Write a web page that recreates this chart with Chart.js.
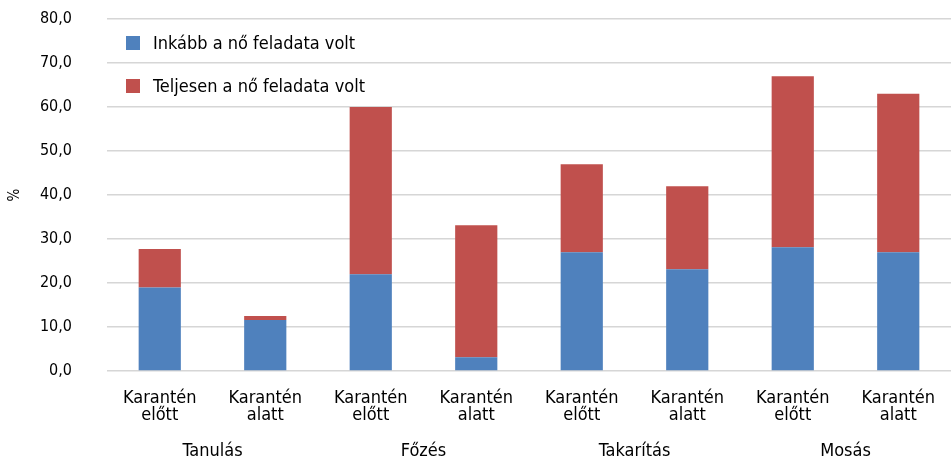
<html>
<head>
<script src="https://cdn.jsdelivr.net/npm/chart.js"></script>
<style>
  body { margin: 0; background: #fff; }
  #wrap { width: 951px; height: 458px; }
</style>
</head>
<body>
<div id="wrap"><canvas id="chart"></canvas></div>
<script>
  // data
  var catLabels = [
    ['Karantén', 'előtt'], ['Karantén', 'alatt'],
    ['Karantén', 'előtt'], ['Karantén', 'alatt'],
    ['Karantén', 'előtt'], ['Karantén', 'alatt'],
    ['Karantén', 'előtt'], ['Karantén', 'alatt']
  ];
  var groupLabels = ['Tanulás', 'Főzés', 'Takarítás', 'Mosás'];
  var inkabb = [19.0, 11.6, 22.0, 3.1, 27.0, 23.1, 28.1, 27.0];
  var teljesen = [8.7, 0.9, 38.0, 30.0, 20.0, 18.9, 38.9, 36.0];
  var seriesNames = ['Inkább a nő feladata volt', 'Teljesen a nő feladata volt'];
  var seriesColors = ['#4f81bd', '#c0504d'];

  var cond = "'DejaVu Sans Condensed', 'DejaVu Sans', sans-serif";

  // legend sits inside the plot, top left
  var insideLegend = {
    id: 'insideLegend',
    afterDraw: function(chart) {
      var ctx = chart.ctx;
      var x = chart.chartArea.left + 19;
      var ys = [43, 86];
      ctx.save();
      ctx.font = '18px ' + cond;
      ctx.textBaseline = 'middle';
      for (var i = 0; i < seriesNames.length; i++) {
        ctx.fillStyle = seriesColors[i];
        ctx.fillRect(x, ys[i] - 7, 14, 14);
        ctx.fillStyle = '#000';
        ctx.fillText(seriesNames[i], x + 27, ys[i] + 1);
      }
      ctx.restore();
    }
  };

  new Chart(document.getElementById('chart'), {
    type: 'bar',
    data: {
      labels: catLabels,
      datasets: [
        { label: seriesNames[0], data: inkabb, backgroundColor: seriesColors[0] },
        { label: seriesNames[1], data: teljesen, backgroundColor: seriesColors[1] }
      ]
    },
    options: {
      responsive: true,
      maintainAspectRatio: false,
      animation: false,
      barPercentage: 0.4,
      categoryPercentage: 1.0,
      layout: { padding: { top: 19, right: 0, left: 0, bottom: 0 } },
      plugins: { legend: { display: false }, tooltip: { enabled: false } },
      scales: {
        x: {
          stacked: true,
          grid: { display: false },
          border: { display: false },
          ticks: {
            color: '#000', font: { family: cond, size: 18, lineHeight: 0.92 },
            padding: 11, maxRotation: 0, autoSkip: false
          },
          afterFit: function(s) { s.height = 62; }
        },
        x2: {
          type: 'category',
          position: 'bottom',
          labels: groupLabels,
          grid: { display: false },
          border: { display: false },
          ticks: { color: '#000', font: { family: cond, size: 18 }, padding: 0 },
          afterFit: function(s) { s.height = 25; }
        },
        y: {
          stacked: true,
          min: 0, max: 80,
          grid: { color: '#d6d6d6', lineWidth: 1.5, drawTicks: false },
          border: { display: false },
          ticks: {
            stepSize: 10, color: '#000', padding: 35,
            font: { family: cond, size: 16 },
            callback: function(v) { return v.toFixed(1).replace('.', ','); }
          },
          title: { display: true, text: '%', color: '#000', font: { family: cond, size: 15 }, padding: { top: 6, bottom: 0 } },
          afterFit: function(s) { s.width = 107; s.paddingTop = 0; s.paddingBottom = 0; }
        }
      }
    },
    plugins: [insideLegend]
  });
</script>
</body>
</html>
